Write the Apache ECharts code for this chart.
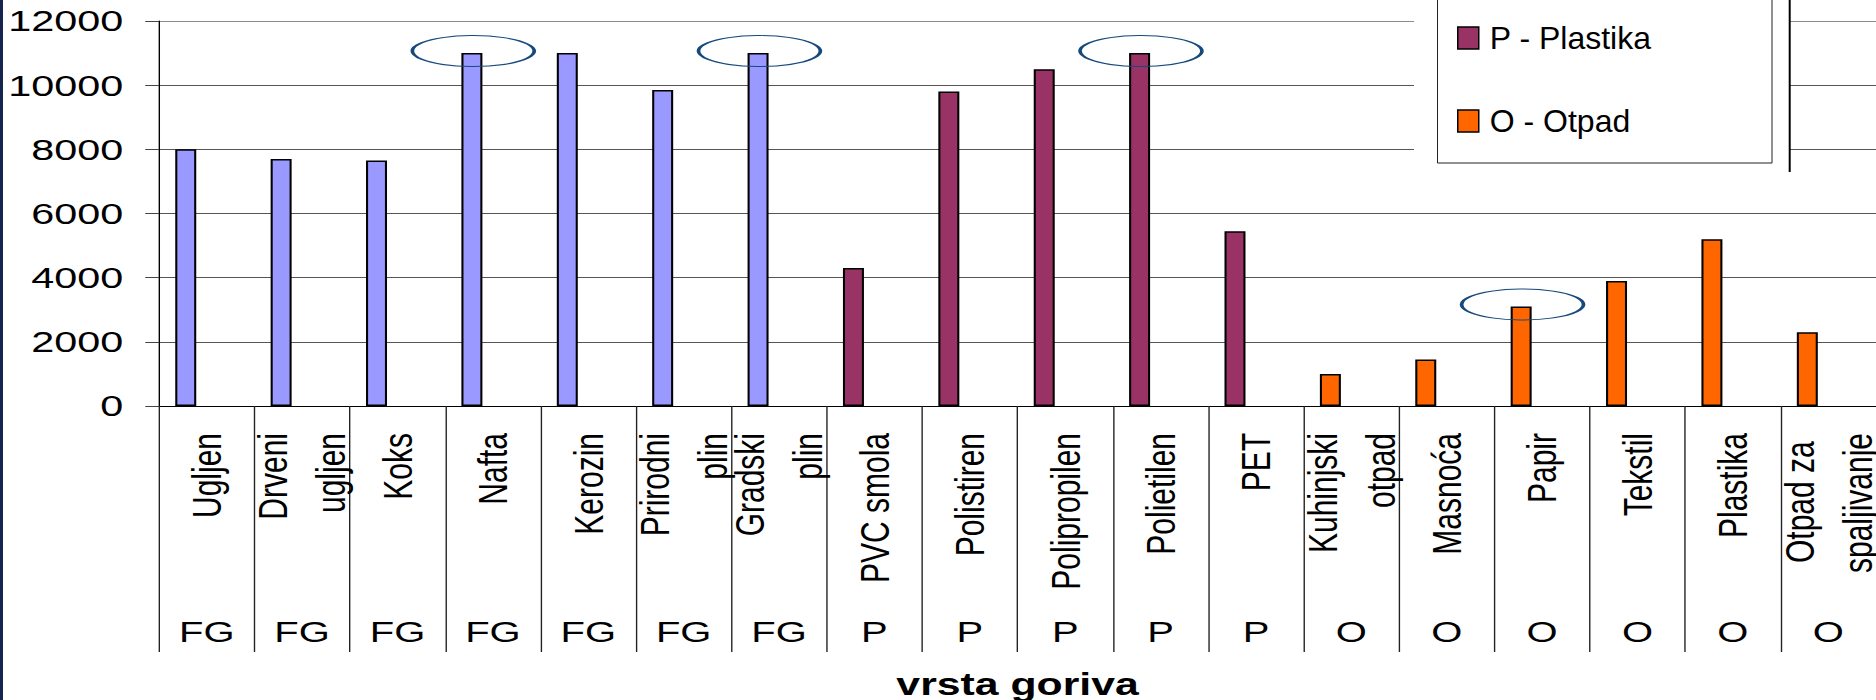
<!DOCTYPE html>
<html>
<head>
<meta charset="utf-8">
<title>vrsta goriva</title>
<script src="https://cdn.jsdelivr.net/npm/echarts@6/dist/echarts.min.js"></script>
<style>
  html, body { margin: 0; padding: 0; background: #fff; width: 1876px; height: 700px; overflow: hidden; }
  #stage { position: relative; width: 1876px; height: 700px; }
  /* the plot is laid out narrower and widened horizontally, giving the broad lettering */
  #plot { position: absolute; left: 0; top: 0; width: 1360px; height: 700px;
          transform: scaleX(1.37941); transform-origin: 0 0; }
  #key  { position: absolute; left: 1380px; top: 0; width: 496px; height: 200px; }
  #edge { position: absolute; left: 0; top: 0; width: 3px; height: 700px; background: #14244f; }
</style>
</head>
<body>
<div id="stage">
  <div id="plot"></div>
  <div id="key"></div>
  <div id="edge"></div>
</div>
<script>
// fuel types along the x axis
const categories = [
  'Ugljen', 'Drveni\nugljen', 'Koks', 'Nafta', 'Kerozin', 'Prirodni\nplin', 'Gradski\nplin',
  'PVC smola', 'Polistiren', 'Polipropilen', 'Polietilen', 'PET',
  'Kuhinjski\notpad', 'Masnoća', 'Papir', 'Tekstil', 'Plastika', 'Otpad za \nspaljivanje'
];
// group code written under each fuel
const groupCodes = [
  'FG', 'FG', 'FG', 'FG', 'FG', 'FG', 'FG',
  'P', 'P', 'P', 'P', 'P',
  'O', 'O', 'O', 'O', 'O', 'O'
];
// one value per fuel
const fuelValues = [
  8000, 7700, 7650, 11000, 11000, 9850, 11000,
  4300, 9800, 10500, 11000, 5450,
  1000, 1450, 3100, 3900, 5200, 2300
];
// groups: code, series name, colour
const groupKeys   = ['FG', 'P', 'O'];
const groupNames  = ['FG - Fosilna goriva', 'P - Plastika', 'O - Otpad'];
const groupColors = ['#9999FF', '#993366', '#FF6600'];
// fuels circled on the chart
const circled = ['Nafta', 'Gradski\nplin', 'Polietilen', 'Papir'];
// value axis
const yMin = 0, yMax = 12000, yStep = 2000;

const FONT = "'Liberation Sans', Arial, sans-serif";
const BAR_W = 15.22;

const groupSeries = groupKeys.map((key, g) => ({
  name: groupNames[g],
  type: 'bar',
  stack: 'vrsta',
  barWidth: BAR_W,
  barGap: 0,
  xAxisIndex: 0,
  yAxisIndex: 0,
  data: categories.map((c, i) => groupCodes[i] === key ? fuelValues[i] : '-'),
  itemStyle: { color: groupColors[g], borderColor: '#000', borderWidth: 1.5 },
  emphasis: { disabled: true },
  markPoint: {
    silent: true,
    symbol: 'circle',
    symbolSize: [88.4, 31],
    symbolOffset: [1, -2],
    label: { show: false },
    itemStyle: { color: 'transparent', borderColor: '#174a7c', borderWidth: 1.6 },
    data: categories
      .map((c, i) => ({ c, i }))
      .filter(d => groupCodes[d.i] === key && circled.includes(d.c))
      .map(d => ({ coord: [d.i, fuelValues[d.i]] }))
  }
}));

// two empty slots beside each bar keep it left of the category centre
const emptySlots = ['slot-b', 'slot-c'].map(n => ({
  name: n, type: 'bar', barWidth: BAR_W, barGap: 0, data: []
}));

const plot = echarts.init(document.getElementById('plot'), null, { renderer: 'svg' });
plot.setOption({
  animation: false,
  backgroundColor: '#fff',
  textStyle: { fontFamily: FONT },
  grid: { left: 115.3, right: 0, top: 21, height: 385, containLabel: false, outerBoundsMode: 'none' },
  xAxis: [
    {
      type: 'category',
      data: categories,
      position: 'bottom',
      boundaryGap: true,
      axisLine: { show: true, lineStyle: { color: '#000', width: 1 } },
      axisTick: { show: true, interval: 0, length: 246, lineStyle: { color: '#222', width: 1 } },
      axisLabel: {
        interval: 0, rotate: 90, margin: 27, fontSize: 30, lineHeight: 42,
        color: '#000', fontFamily: FONT, hideOverlap: false
      },
      splitLine: { show: false },
      name: 'vrsta goriva',
      nameLocation: 'middle',
      nameGap: 278,
      nameTextStyle: { fontSize: 31, fontWeight: 'bold', color: '#000', fontFamily: FONT, verticalAlign: 'middle' }
    },
    {
      type: 'category',
      data: categories,
      position: 'bottom',
      boundaryGap: true,
      axisLine: { show: false },
      axisTick: { show: false },
      splitLine: { show: false },
      axisLabel: {
        interval: 0, margin: 226, fontSize: 29, color: '#000', fontFamily: FONT,
        verticalAlign: 'middle',
        formatter: (v, i) => groupCodes[i]
      }
    }
  ],
  yAxis: {
    type: 'value',
    min: yMin, max: yMax, interval: yStep,
    axisLine: { show: true, lineStyle: { color: '#000', width: 1 } },
    axisTick: { show: true, length: 10, lineStyle: { color: '#444', width: 1 } },
    axisLabel: {
      margin: 26, fontSize: 30, color: '#000', fontFamily: FONT,
      formatter: v => String(v)
    },
    splitLine: {
      show: true,
      lineStyle: { color: ['#555', '#555', '#555', '#555', '#555', '#555', '#8c8c8c'], width: 1 }
    }
  },
  series: groupSeries.concat(emptySlots)
});

// legend panel in the top right corner
const key = echarts.init(document.getElementById('key'), null, { renderer: 'svg' });
key.setOption({
  animation: false,
  grid: { show: false, left: 0, top: 0, width: 1, height: 1 },
  xAxis: { show: false, type: 'category', data: [] },
  yAxis: { show: false, type: 'value' },
  graphic: [
    { type: 'rect', z: 0, shape: { x: 34, y: 0, width: 375, height: 172 }, style: { fill: '#fff' } },
    { type: 'rect', z: 1, shape: { x: 57.5, y: -2, width: 334.5, height: 165 },
      style: { fill: '#fff', stroke: '#222', lineWidth: 1 } },
    { type: 'line', z: 1, shape: { x1: 409.7, y1: 0, x2: 409.7, y2: 172 },
      style: { stroke: '#000', lineWidth: 2 } }
  ],
  legend: {
    orient: 'vertical',
    left: 77, top: 22, padding: 0,
    itemGap: 51, itemWidth: 21, itemHeight: 22,
    icon: 'rect',
    selectedMode: false,
    itemStyle: { borderColor: '#000', borderWidth: 1.5 },
    textStyle: { fontSize: 32, lineHeight: 32, color: '#000', fontFamily: FONT, padding: [0, 0, 0, 6] },
    data: groupNames.slice(1)
  },
  series: groupNames.slice(1).map((n, k) => ({
    name: n, type: 'bar', data: [],
    itemStyle: { color: groupColors[k + 1], borderColor: '#000', borderWidth: 1.5 }
  }))
});
</script>
</body>
</html>
